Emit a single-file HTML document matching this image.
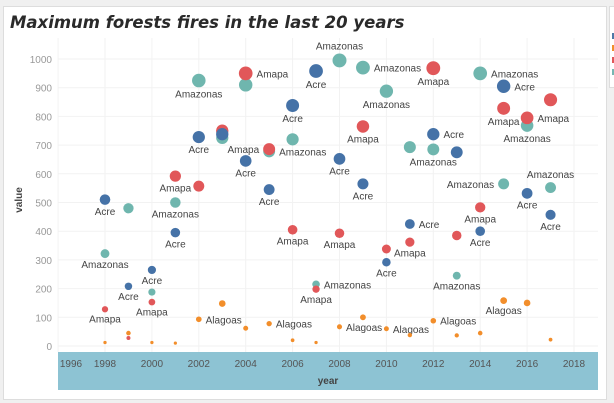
<!DOCTYPE html>
<html><head><meta charset="utf-8"><style>
body{margin:0;width:614px;height:403px;overflow:hidden;background:#f0f0f0;font-family:"Liberation Sans","DejaVu Sans",sans-serif}
#panel{position:absolute;left:3px;top:6px;width:602px;height:392px;background:#fff;border:1px solid #ddd}
#title{position:absolute;left:10px;top:13px;font-size:16.5px;font-weight:bold;font-style:italic;color:#2a2a2a;font-family:"DejaVu Sans","Liberation Sans",sans-serif;white-space:nowrap}
svg{position:absolute;left:0;top:0}
</style></head><body>
<div id="panel"></div>
<div id="title">Maximum forests fires in the last 20 years</div>
<div style="position:absolute;left:609px;top:6px;width:10px;height:80px;background:#fff;border:1px solid #ddd"></div>
<div style="position:absolute;left:612px;top:33px;width:4px;height:6px;background:#4e79a7"></div>
<div style="position:absolute;left:612px;top:45px;width:4px;height:6px;background:#f28e2b"></div>
<div style="position:absolute;left:612px;top:57px;width:4px;height:6px;background:#e15759"></div>
<div style="position:absolute;left:612px;top:69px;width:4px;height:6px;background:#76b7b2"></div>
<svg id="chart" width="614" height="403"></svg>
<script>
const years=[1998,1999,2000,2001,2002,2003,2004,2005,2006,2007,2008,2009,2010,2011,2012,2013,2014,2015,2016,2017];
const acre=[510,208,265,395,728,738,645,545,838,958,652,565,292,425,738,675,400,905,532,457];
const amazonas=[322,480,188,500,925,725,910,678,720,215,995,970,888,693,685,245,950,565,768,552];
const amapa=[128,28,153,592,557,750,950,686,405,198,393,765,338,362,968,385,483,828,795,858];
const alagoas=[12,45,12,10,93,148,62,78,20,12,67,100,60,38,88,37,45,158,150,22];
const xTicks=[1996,1998,2000,2002,2004,2006,2008,2010,2012,2014,2016,2018];
const yTicks=[0,100,200,300,400,500,600,700,800,900,1000];
const acreLab=['b','b','b','b','b','','b','b','b','b','b','b','b','r','r','','b','r','b','b'];
const amazLab=['b','','','b','b','','','r','','r','a','r','b','','b','b','r','l','b','a'];
const amapLab=['b','','b','b','','','r','l','b','b','b','b','','b','b','','b','b','r',''];
const alagLab=['','','','','r','','','r','','','r','','r','','r','','','b','',''];

const NS='http://www.w3.org/2000/svg';
const svg=document.getElementById('chart');
const X=y=>105+(y-1998)*23.45;
const Y=v=>346-v*0.287;
const R=v=>1+6*Math.sqrt(Math.max(v,0)/1000);
function mk(tag,attrs){const e=document.createElementNS(NS,tag);for(const k in attrs)e.setAttribute(k,attrs[k]);svg.appendChild(e);return e;}
let band=mk('rect',{x:58,y:352,width:540,height:38,fill:'#8dc3d3'});


yTicks.forEach(t=>{
  let g=mk('line',{x1:58,x2:598,y1:Y(t),y2:Y(t),stroke:'#f2f2f2'});
  
  
  let l=mk('text',{x:52,y:Y(t)+4,'text-anchor':'end','font-size':10,fill:'#999'});l.textContent=t;
  
  
});
xTicks.forEach(t=>{
  let g=mk('line',{x1:X(t),x2:X(t),y1:38,y2:352,stroke:'#f2f2f2'});
  
  
  let lx=Math.max(X(t),71);
  let l=mk('text',{x:lx,y:367,'text-anchor':'middle','font-size':10,fill:'#555'});l.textContent=t;
  
  
});
let xt=mk('text',{x:328,y:384,'text-anchor':'middle','font-size':10,'font-weight':'bold',fill:'#444'});xt.textContent='year';


let yt=mk('text',{x:22,y:200,'text-anchor':'middle','font-size':10,'font-weight':'bold',fill:'#444',transform:'rotate(-90 22 200)'});yt.textContent='value';


const series=[['Alagoas',alagoas,'#f28e2b',alagLab],['Amazonas',amazonas,'#6fb6ae',amazLab],['Amapa',amapa,'#e15759',amapLab],['Acre',acre,'#4572a7',acreLab]];
series.forEach(([name,vals,col,labs])=>{
  vals.forEach((v,i)=>{
    const cx=X(years[i]),cy=Y(v),r=R(v);
    let c=mk('circle',{cx:cx,cy:cy,r:r,fill:col});
    
    
    const p=labs[i];if(!p)return;
    let a={'font-size':10,fill:'#444'};
    if(p==='b'){a.x=cx;a.y=cy+r+10;a['text-anchor']='middle';}
    else if(p==='a'){a.x=cx;a.y=cy-r-4;a['text-anchor']='middle';}
    else if(p==='r'){a.x=cx+r+4;a.y=cy+4;a['text-anchor']='start';}
    else {a.x=cx-r-4;a.y=cy+4;a['text-anchor']='end';}
    let t=mk('text',a);t.textContent=name;
    
    
  });
});
</script>
</body></html>
